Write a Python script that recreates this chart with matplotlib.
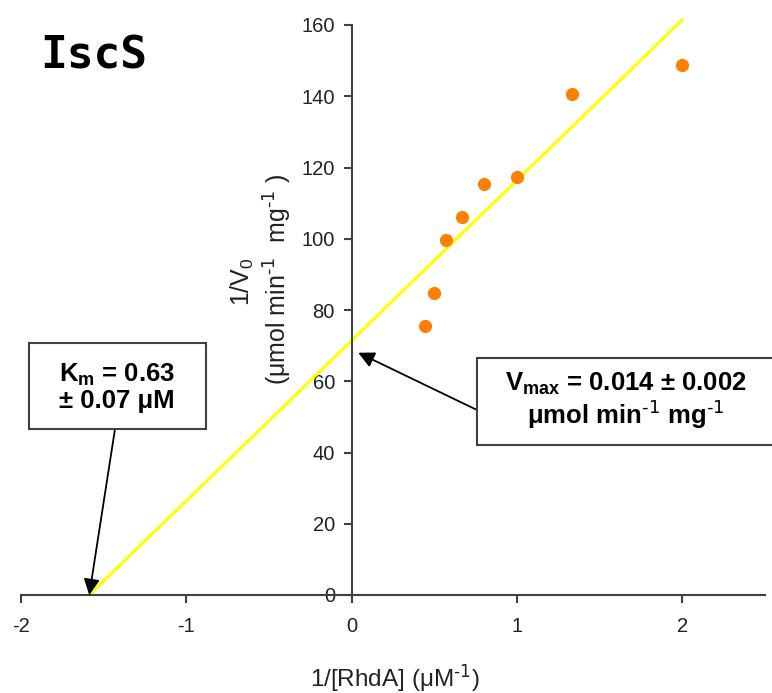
import matplotlib
matplotlib.use("Agg")
import matplotlib.pyplot as plt
from matplotlib.patches import Rectangle
import numpy as np

# Data
inv_s = [0.444, 0.50, 0.571, 0.667, 0.80, 1.00, 1.333, 2.00]
inv_v = [75.6, 84.7, 99.6, 106.1, 115.4, 117.4, 140.6, 148.7]
km = 0.63
vmax = 0.014
fit_x = [-1.0 / km, 2.0]
fit_y = [(km / vmax) * x + 1.0 / vmax for x in fit_x]
x_ticks = [-2, -1, 0, 1, 2]
y_ticks = [0, 20, 40, 60, 80, 100, 120, 140, 160]

plt.rcParams['font.family'] = ['Liberation Sans', 'DejaVu Sans']
plt.rcParams['mathtext.default'] = 'regular'
plt.rcParams['axes.unicode_minus'] = False

W, H = 772, 693
fig = plt.figure(figsize=(W / 100, H / 100), dpi=100)
ax = fig.add_axes([21 / W, (H - 595) / H, 744 / W, 570 / H])
ax.set_xlim(-2, 2.5)
ax.set_ylim(0, 160)

ax.plot(fit_x, fit_y, color='#FFFF00', lw=2.2, clip_on=False, zorder=2)
ax.plot(inv_s, inv_v, 'o', color='#FF8000', markersize=9.5, markeredgewidth=0, zorder=3, clip_on=False)

for s in ['top', 'right']:
    ax.spines[s].set_visible(False)
ax.spines['left'].set_position(('data', 0))
for s in ['left', 'bottom']:
    ax.spines[s].set_color('#404040')
    ax.spines[s].set_linewidth(1.5)

ax.set_xticks(x_ticks)
ax.set_yticks(y_ticks)
ax.tick_params(axis='both', colors='#404040', labelcolor='#222222', labelsize=14.5,
               width=1.5, length=6, direction='out')
ax.tick_params(axis='x', pad=10)
ax.tick_params(axis='y', pad=6)

sup = r'$^{\text{-1}}$'

# axis labels
fig.text(242 / W, 1 - 282 / H, '1/V$_{0}$', rotation=90, ha='center', va='center',
         fontsize=18, color='#222222')
fig.text(278 / W, 1 - 279 / H, '(μmol min' + sup + '  mg' + sup + ' )', rotation=90,
         ha='center', va='center', fontsize=18, color='#222222')
fig.text(395 / W, 1 - 678 / H, '1/[RhdA] (μM' + sup + ')', ha='center', va='center',
         fontsize=17.5, color='#222222')

# title
fig.text(40 / W, 1 - 56 / H, 'IscS', ha='left', va='center', fontsize=32,
         fontweight='bold', family='DejaVu Sans Mono', color='black')

# boxes
fig.add_artist(Rectangle((29 / W, 1 - 429 / H), 177 / W, 86 / H, transform=fig.transFigure,
                         facecolor='white', edgecolor='#404040', lw=1.5, zorder=5))
fig.add_artist(Rectangle((477 / W, 1 - 445 / H), 310 / W, 87 / H, transform=fig.transFigure,
                         facecolor='white', edgecolor='#404040', lw=1.5, zorder=5))

fig.text(117 / W, 1 - 387 / H, 'K$_{m}$ = 0.63\n± 0.07 μM', ha='center', va='center',
         fontsize=18.5, fontweight='bold', linespacing=1.05, zorder=6)
fig.text(626 / W, 1 - 401 / H, 'V$_{max}$ = 0.014 ± 0.002\nμmol min' + sup + ' mg' + sup,
         ha='center', va='center', fontsize=18.5, fontweight='bold', linespacing=1.05, zorder=6)

# arrows
ax.annotate('', xy=(fit_x[0], 0), xycoords='data', xytext=(115, H - 429),
            textcoords='figure pixels',
            arrowprops=dict(arrowstyle='-|>', color='black', lw=1.3, mutation_scale=24,
                            shrinkA=0, shrinkB=0), zorder=4)
ax.annotate('', xy=(0.04, 68), xycoords='data', xytext=(477, H - 410),
            textcoords='figure pixels',
            arrowprops=dict(arrowstyle='-|>', color='black', lw=1.3, mutation_scale=24,
                            shrinkA=0, shrinkB=0), zorder=4)

fig.savefig('out.png', dpi=100)
